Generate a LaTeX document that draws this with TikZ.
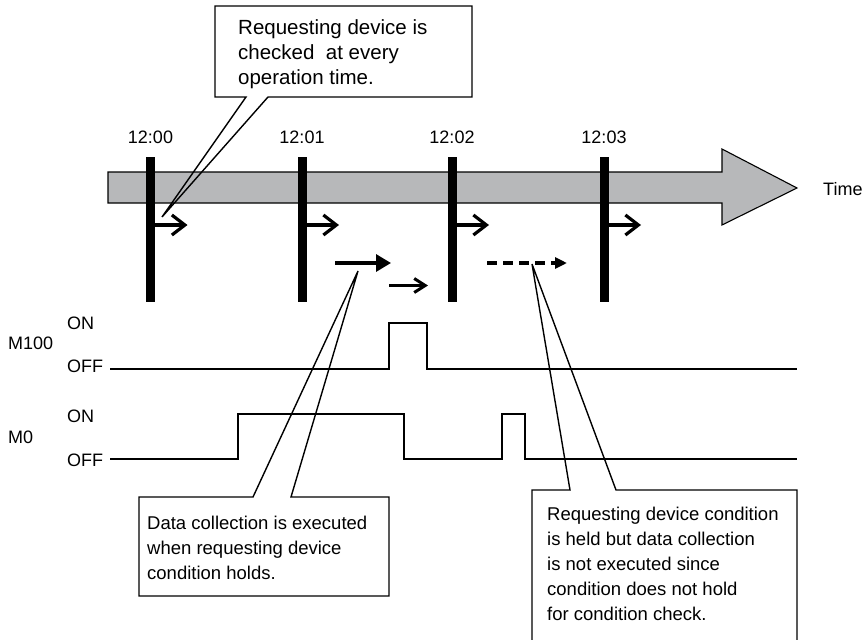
\documentclass[tikz,border=0pt]{standalone}
\usepackage{fontspec}
\setmainfont{Liberation Sans}
\usetikzlibrary{arrows.meta}
\definecolor{arrowgray}{RGB}{183,184,186}
\tikzset{
  lbl/.style={font=\fontsize{18}{22}\selectfont, inner sep=0pt},
  bartick/.style={fill=black, draw=none, minimum width=9pt, minimum height=145pt, inner sep=0pt},
  chk/.style={line width=3.2pt, -{Straight Barb[length=13pt,width=20pt,line width=3.2pt]}},
  chksmall/.style={line width=3pt, -{Straight Barb[length=11pt,width=14pt,line width=3pt]}},
  fillarrow/.style={line width=3.2pt, -{Triangle[length=15pt,width=17pt]}},
  dasharrow/.style={line width=3.2pt, dash pattern=on 10pt off 6pt, -{Triangle[length=12pt,width=11pt]}},
  signal/.style={line width=2.5pt},
  callout/.style={draw=black, line width=1.4pt, line join=miter},
  boxtext/.style={inner sep=0pt, anchor=north west, align=left}
}
\begin{document}
\begin{tikzpicture}[x=1pt,y=-1pt]
\useasboundingbox (0,0) rectangle (868,640);

% big time arrow
\draw[fill=arrowgray, line width=1.1pt, line join=miter]
  (108,172) -- (722,172) -- (722,149) -- (797,188) -- (722,225) -- (722,203) -- (108,203) -- cycle;
\node[lbl, anchor=base west] (time) at (823,195) {Time};

% ticks
\foreach \n/\x/\t in {b0/150.5/12:00, b1/302/12:01, b2/452/12:02, b3/604/12:03}{
  \node[bartick] (\n) at (\x,229.5) {};
  \node[lbl, anchor=base] (\n lab) at (\x,143.5) {\t};
  \coordinate (\n s) at (\x+4,225);
  \coordinate (\n e) at (\x+37,225);
  \draw[chk] (\n s) -- (\n e);
}

% middle arrows
\coordinate (a1s) at (335,263); \coordinate (a1e) at (391,263);
\coordinate (a2s) at (389,285.5); \coordinate (a2e) at (428,285.5);
\coordinate (a3s) at (487,263); \coordinate (a3e) at (567,263);
\draw[fillarrow] (a1s) -- (a1e);
\draw[chksmall] (a2s) -- (a2e);
\draw[dasharrow] (a3s) -- (a3e);

% signal labels
\node[lbl, anchor=base west] (m100) at (8,349) {M100};
\node[lbl, anchor=base west] (m100on) at (67,329) {ON};
\node[lbl, anchor=base west] (m100off) at (67,372) {OFF};
\node[lbl, anchor=base west] (m0) at (8,443) {M0};
\node[lbl, anchor=base west] (m0on) at (67,422) {ON};
\node[lbl, anchor=base west] (m0off) at (67,466) {OFF};

% signals
\draw[signal] (110,369) -- (389,369) -- (389,323) -- (427,323) -- (427,369) -- (797,369);
\draw[signal] (110,459) -- (238,459) -- (238,414) -- (404,414) -- (404,459) -- (502,459)
  -- (502,414) -- (525,414) -- (525,459) -- (797,459);

% callout: top
\coordinate (tipA) at (162,217);
\draw[callout] (246,97) -- (215,97) -- (215,6) -- (472,6) -- (472,97) -- (268,97) -- (tipA) -- cycle;
\node[boxtext, font=\fontsize{20.5}{25}\selectfont] (txtA) at (238,17)
  {\rule{0pt}{17.5pt}Requesting device is\\checked\ \ at every\\operation time.};

% callout: bottom left
\coordinate (tipB) at (358,271);
\draw[callout] (253,497) -- (139,497) -- (139,596) -- (389,596) -- (389,497) -- (291,497) -- (tipB) -- cycle;
\node[boxtext, font=\fontsize{18.5}{25}\selectfont] (txtB) at (147,511.8)
  {\rule{0pt}{17.5pt}Data collection is executed\\when requesting device\\condition holds.};

% callout: bottom right
\coordinate (tipC) at (532,264);
\draw[callout] (570,490) -- (532,490) -- (532,650) -- (797,650) -- (797,490) -- (616,490) -- (tipC) -- cycle;
\node[boxtext, font=\fontsize{18.5}{25}\selectfont] (txtC) at (547,502.5)
  {\rule{0pt}{17.5pt}Requesting device condition\\is held but data collection\\is not executed since\\condition does not hold\\for condition check.};
\end{tikzpicture}
\end{document}
